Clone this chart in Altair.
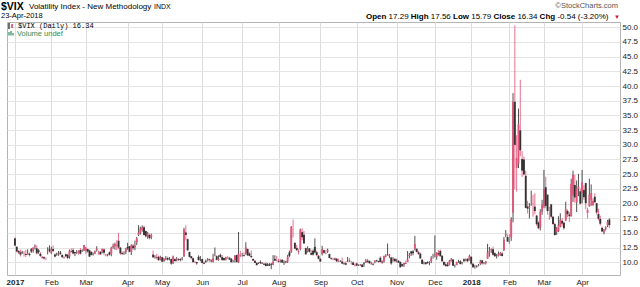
import altair as alt
import pandas as pd
import numpy as np

# ---------------- data (one inner list per month) ----------------
month_labels = ["2017", "Feb", "Mar", "Apr", "May", "Jun", "Jul", "Aug", "Sep", "Oct",
                "Nov", "Dec", "2018", "Feb", "Mar", "Apr"]
year_labels = ["2017", "2018"]

open_m = [
    [14.07,12.65,11.94,11.70,11.66,11.45,11.42,11.38,11.44,12.20,11.94,12.62,12.39,12.04,11.45,10.93,10.86,10.57,11.86,12.22],
    [11.63,12.26,11.33,11.46,11.32,11.64,11.27,10.92,11.37,11.28,11.00,11.87,12.11,11.75,11.64,11.80,12.10,12.03,12.02],
    [11.96,12.26,12.05,11.79,11.36,11.52,12.07,11.64,11.82,11.83,12.16,11.24,11.33,11.67,11.34,12.53,12.70,12.84,13.67,12.50,11.59,11.55,11.73],
    [12.62,12.76,11.75,12.84,12.52,13.40,14.66,15.01,15.54,15.98,15.32,14.39,14.65,14.27,11.31,11.01,10.86,10.95,10.47],
    [10.87,10.24,10.61,10.73,10.54,10.58,9.87,10.55,10.50,10.54,10.52,10.55,11.02,15.08,13.94,11.77,11.04,10.70,9.98,10.05,10.92,10.44],
    [10.57,9.92,10.18,10.27,10.52,10.33,10.05,11.43,11.04,10.41,11.24,10.89,10.72,10.46,10.73,10.78,10.62,10.16,10.38,11.26,10.01,11.22],
    [11.21,11.21,11.52,12.26,11.52,11.08,10.57,10.25,9.91,9.83,10.05,9.92,9.76,9.79,9.61,9.66,9.72,9.59,10.56,10.30],
    [10.22,10.21,10.44,10.05,10.16,10.14,11.68,11.79,15.52,13.31,12.45,11.82,12.26,15.14,14.70,12.40,11.89,12.38,11.61,11.94,12.63,11.73,11.11],
    [10.58,11.41,12.07,11.49,11.83,11.40,10.71,10.52,10.64,10.62,10.23,10.21,10.14,9.80,9.85,10.15,10.29,9.88,9.96,9.55],
    [9.81,9.54,9.49,9.61,9.79,9.92,10.28,10.24,9.83,9.74,10.08,10.39,10.23,10.78,10.12,10.14,11.06,11.26,11.07,10.81,10.40,10.59],
    [10.18,10.27,10.07,9.69,9.52,9.87,10.05,11.09,11.86,11.85,12.28,12.31,11.71,11.48,10.44,9.86,9.99,10.06,9.96,10.19,11.28],
    [11.33,10.95,11.55,11.93,11.13,10.07,9.67,9.55,9.55,10.19,10.46,9.56,9.55,10.07,10.19,9.95,10.50,10.32,10.61,10.37],
    [10.95,9.74,9.20,9.30,9.40,9.79,10.33,9.82,9.85,10.60,11.66,12.04,12.23,11.56,11.14,11.12,11.34,11.50,12.05,14.63,14.29],
    [13.52,14.24,18.44,37.32,26.07,26.80,32.46,27.58,27.50,24.71,19.50,19.31,20.61,19.95,19.48,17.95,16.79,15.92,18.61],
    [19.54,22.78,21.50,18.34,19.86,17.75,16.50,15.15,15.26,16.13,17.06,16.73,17.08,18.73,18.14,17.82,21.37,23.16,20.20,22.51,22.08],
    [21.72,22.29,23.49,18.40,19.55,20.63,19.72,21.17,20.06,18.22,17.39,15.87,15.03,15.73,16.25,17.29],
]
high_m = [
    [14.22,12.69,12.09,12.16,11.97,11.89,12.13,12.21,11.68,12.42,12.56,13.04,12.90,12.24,11.74,11.06,11.03,10.83,12.56,12.89],
    [12.64,12.85,11.51,11.64,11.92,11.93,11.30,11.03,11.45,11.44,12.18,12.36,12.45,11.78,12.08,12.08,12.45,12.22,12.96],
    [12.62,12.34,12.17,11.82,11.67,12.02,12.74,12.00,11.85,12.32,12.36,11.45,11.43,11.81,12.64,13.18,13.34,13.77,15.00,12.61,11.83,11.88,12.45],
    [13.32,12.78,13.07,13.10,13.68,14.32,16.32,16.06,16.28,16.22,15.40,15.18,14.89,14.87,12.00,11.20,11.44,11.14,11.12],
    [10.93,10.74,11.05,10.97,10.90,10.60,11.14,10.69,10.89,10.70,10.66,10.91,15.88,16.30,14.06,11.80,11.06,10.81,10.29,10.08,11.18,11.07],
    [10.60,10.09,10.48,10.72,10.63,10.53,11.44,12.52,11.19,11.21,11.46,11.21,10.76,10.96,11.05,10.94,10.71,10.42,11.24,11.30,15.16,11.97],
    [11.58,11.68,13.40,12.34,11.73,12.02,10.65,10.41,10.00,9.98,10.31,10.03,9.90,9.98,9.87,9.86,9.89,11.21,11.19,11.06],
    [10.60,10.49,10.50,10.34,10.25,11.26,12.00,16.15,17.28,13.40,12.95,12.29,15.73,15.81,15.33,12.52,12.71,12.43,12.12,12.18,14.07,11.97,11.25],
    [10.75,12.81,12.14,12.05,12.33,11.46,10.83,10.78,10.82,10.74,10.61,10.37,10.83,10.09,10.18,10.91,10.73,10.24,10.15,9.79],
    [9.95,9.65,9.71,9.70,10.05,10.54,10.59,10.31,10.09,9.91,10.32,10.41,10.25,11.02,10.37,11.12,11.40,13.20,11.41,10.94,10.88,10.70],
    [10.59,10.37,10.14,9.75,9.93,10.31,11.92,11.61,11.93,12.06,14.51,12.34,11.96,11.65,10.53,10.15,10.00,10.14,10.19,11.05,11.46],
    [14.58,11.72,12.08,12.17,11.15,10.17,9.99,10.00,10.40,10.73,10.49,9.60,10.10,10.42,10.39,10.03,10.65,10.63,10.69,11.30],
    [10.99,9.84,9.57,9.49,9.71,10.42,10.40,10.05,10.22,13.14,12.61,12.35,12.69,11.71,11.44,11.84,11.77,11.79,14.32,15.49,14.75],
    [14.78,17.67,38.80,50.30,31.64,36.17,41.06,28.93,28.00,25.60,20.47,20.08,22.19,21.50,21.76,18.05,16.97,19.03,20.64],
    [25.72,24.56,21.57,19.46,19.93,17.86,16.74,15.99,17.84,18.35,17.49,16.94,20.31,19.00,18.54,24.23,25.62,24.91,23.93,25.04,22.55],
    [25.72,23.09,23.53,19.29,24.25,23.26,20.91,21.76,20.12,19.13,17.93,16.08,15.65,16.14,17.23,17.56],
]
low_m = [
    [12.75,11.71,11.40,10.99,11.45,11.00,10.91,11.28,10.99,11.60,11.65,12.18,11.32,11.45,10.92,10.60,10.46,10.36,11.34,11.70],
    [11.40,11.76,10.85,11.11,11.10,11.29,10.70,10.61,10.87,10.50,10.62,11.67,11.37,11.05,11.40,11.29,11.32,11.76,11.89],
    [11.41,11.63,10.94,11.20,11.14,11.37,11.82,11.28,11.24,11.53,11.20,11.02,11.01,11.18,11.03,12.31,12.14,12.06,12.22,11.26,11.25,11.26,11.39],
    [12.13,11.72,11.23,12.12,12.06,12.92,14.48,14.74,15.21,14.58,14.23,14.00,13.90,13.93,10.76,10.62,10.50,10.25,10.32],
    [10.00,10.08,10.36,10.31,10.34,9.56,9.72,10.12,10.15,10.22,10.18,10.32,10.90,13.75,11.94,10.82,10.49,9.97,9.88,9.56,10.33,10.15],
    [9.84,9.68,9.90,10.16,10.09,9.97,9.98,11.03,10.31,10.26,10.81,10.29,10.33,10.31,10.55,10.37,9.93,9.98,9.97,9.97,9.92,10.87],
    [10.96,10.95,11.28,11.07,11.02,10.70,10.20,9.89,9.48,9.71,9.73,9.70,9.54,9.32,9.41,9.41,8.84,9.51,10.26,10.16],
    [9.95,9.96,9.94,9.56,9.79,9.88,10.87,11.59,14.22,12.28,11.99,11.34,12.05,13.75,13.19,11.35,11.68,11.67,11.21,11.17,11.54,11.04,10.53],
    [10.09,11.16,11.46,11.39,11.59,10.68,10.43,10.35,10.35,10.03,10.10,10.05,9.73,9.65,9.50,10.05,10.05,9.59,9.52,9.28],
    [9.33,9.40,9.40,9.17,9.21,9.88,9.85,9.73,9.61,9.45,9.82,10.08,9.91,9.96,9.71,9.94,10.83,11.14,10.71,9.55,10.10,10.08],
    [9.98,9.94,9.14,9.23,9.22,9.69,10.02,10.67,11.10,11.20,12.01,11.66,11.27,10.62,9.69,9.63,9.67,9.77,9.50,9.86,10.64],
    [10.84,10.44,11.10,10.99,10.14,9.40,9.31,9.32,9.48,10.12,9.38,9.13,9.50,9.93,9.60,9.63,10.03,10.18,10.04,10.30],
    [9.52,9.06,8.92,9.10,9.30,9.55,9.61,9.65,9.63,10.55,10.95,11.60,11.15,10.96,10.66,10.99,11.10,10.99,11.94,14.26,13.44],
    [13.12,13.65,16.80,22.42,22.02,26.03,28.04,24.52,24.78,19.20,18.32,17.47,19.61,17.76,18.16,16.21,15.63,15.42,18.07],
    [19.21,19.18,18.10,17.23,17.51,16.36,14.55,14.67,15.13,15.94,16.04,15.55,17.07,17.69,16.87,17.81,20.28,20.15,18.55,21.26,19.86],
    [20.04,20.64,19.03,17.48,19.46,19.63,19.58,20.05,18.16,17.12,16.25,15.14,14.78,15.41,16.01,15.79],
]
close_m = [
    [12.85,11.85,11.67,11.32,11.56,11.49,11.26,11.54,11.23,11.87,12.48,12.78,11.54,11.77,11.07,10.81,10.63,10.58,11.88,11.99],
    [12.14,11.93,10.97,11.37,11.45,11.45,10.88,10.85,11.07,10.74,11.97,11.76,11.49,11.57,11.74,11.71,11.47,12.09,12.92],
    [12.54,11.81,10.96,11.24,11.45,11.86,12.30,11.66,11.35,12.30,11.63,11.21,11.28,11.34,12.47,12.81,13.12,12.96,12.50,11.53,11.42,11.54,12.37],
    [12.38,11.79,12.89,12.39,12.87,14.05,15.07,15.77,15.96,14.66,14.42,14.93,14.15,14.63,10.84,11.10,10.76,10.36,10.82],
    [10.11,10.59,10.68,10.46,10.57,9.77,10.96,10.21,10.60,10.40,10.42,10.65,15.59,14.66,12.04,10.93,10.72,10.02,9.99,9.81,10.38,10.41],
    [9.89,9.75,10.07,10.45,10.39,10.16,10.70,11.46,10.42,10.64,10.90,10.38,10.37,10.86,10.75,10.48,10.02,10.15,11.06,10.03,11.44,11.18],
    [11.22,11.07,12.54,11.19,11.11,10.89,10.30,9.90,9.51,9.82,9.89,9.79,9.58,9.36,9.43,9.43,9.60,10.11,10.29,10.26],
    [10.09,10.28,9.95,10.03,10.00,10.96,11.11,16.04,15.51,12.33,12.04,11.74,15.55,14.26,13.19,11.35,12.25,11.78,11.28,11.32,11.70,11.22,10.59],
    [10.13,12.23,11.63,11.55,12.12,10.73,10.58,10.50,10.44,10.17,10.15,10.18,9.78,9.67,9.59,10.21,10.17,9.87,9.55,9.51],
    [9.45,9.51,9.63,9.19,9.65,10.33,10.08,9.85,9.91,9.61,10.31,10.31,10.07,10.05,9.97,11.07,11.16,11.23,11.30,9.80,10.50,10.18],
    [10.20,9.93,9.14,9.40,9.89,9.78,10.50,11.29,11.50,11.59,13.13,11.76,11.43,10.65,9.73,9.88,9.67,9.87,10.03,10.70,11.28],
    [11.43,11.68,11.33,11.02,10.16,9.58,9.34,9.34,10.18,10.49,9.42,9.53,10.03,10.03,9.72,9.90,10.25,10.47,10.18,11.04],
    [9.77,9.15,9.22,9.22,9.52,10.08,9.82,9.88,10.16,11.66,11.91,12.22,11.27,11.03,11.10,11.47,11.58,11.08,13.84,14.79,13.54],
    [13.47,17.31,37.32,29.98,27.73,33.46,29.06,25.61,24.97,19.26,19.13,19.46,20.60,20.02,18.72,16.49,15.80,18.59,19.85],
    [22.47,19.59,18.73,18.36,17.76,16.54,14.64,15.78,16.35,17.23,16.59,15.80,19.02,18.20,17.86,23.34,24.87,21.03,22.50,22.87,19.97],
    [23.62,21.10,20.06,18.94,21.49,21.77,20.47,20.24,18.49,17.41,16.56,15.25,15.60,15.96,16.88,16.34],
]
prev_close_before_start = 14.04
y_ticks = [10.0, 12.5, 15.0, 17.5, 20.0, 22.5, 25.0, 27.5, 30.0, 32.5, 35.0, 37.5, 40.0, 42.5, 45.0, 47.5, 50.0]

header_symbol = "$VIX"
header_name = "Volatility Index - New Methodology"
header_exch = "INDX"
header_date = "23-Apr-2018"
header_copyright = "\u00a9StockCharts.com"
quote_parts = ["Open", "17.29", "High", "17.56", "Low", "15.79", "Close", "16.34", "Chg", "-0.54 (-3.20%)"]
legend_main = "$VIX (Daily) 16.34"
legend_vol = "Volume undef"

# ---------------- build table ----------------
rows = []
month_start = []
i = 0
for m in range(len(close_m)):
    n = min(len(open_m[m]), len(high_m[m]), len(low_m[m]), len(close_m[m]))
    month_start.append(i)
    for d in range(n):
        rows.append({"i": i, "o": open_m[m][d], "h": high_m[m][d], "l": low_m[m][d], "c": close_m[m][d]})
        i += 1
df = pd.DataFrame(rows)
df["h"] = df[["h", "o", "c"]].max(axis=1)
df["l"] = df[["l", "o", "c"]].min(axis=1)
df["prev"] = df["c"].shift(1).fillna(prev_close_before_start)
df["dir"] = np.where(df["c"] >= df["prev"], "up", "down")
df["kind"] = df["dir"] + np.where(df["c"] > df["o"], "_h", "_f")

PW, PH = 613, 253
OX, OY = 7, 22  # plot origin inside the page

x_vals = month_start
lbl_expr = "[" + ",".join("'%s'" % s for s in month_labels) + "][indexof([" + ",".join(str(v) for v in x_vals) + "], datum.value)]"
year_test = " || ".join("datum.value == %d" % month_start[month_labels.index(y)] for y in year_labels)

x_enc = alt.X("i:Q",
              scale=alt.Scale(domain=[-1.62, 330.1], nice=False, zero=False),
              axis=alt.Axis(values=x_vals, labelExpr=lbl_expr, grid=True, gridColor="#dcdcdc",
                            gridWidth=1, ticks=False, domain=False, labelFontSize=8,
                            labelFont="Liberation Sans", labelColor="#222", labelPadding=3,
                            labelFlush=False, labelOverlap=False, title=None,
                            labelFontWeight={"condition": {"test": year_test, "value": "bold"}, "value": "normal"}))
y_scale = alt.Scale(domain=[7.84, 50.9], nice=False, zero=False)
y_axis = alt.Axis(orient="right", values=y_ticks, format=".1f", grid=True, gridColor="#e4e4e4",
                  ticks=False, domain=False, labelFontSize=8, labelFont="Liberation Sans",
                  labelColor="#222", labelPadding=2, title=None)

base = alt.Chart(df)

wicks = base.mark_rule(strokeWidth=1, opacity=0.85).encode(
    x=x_enc,
    y=alt.Y("l:Q", scale=y_scale, axis=y_axis),
    y2="h:Q",
    color=alt.Color("dir:N", scale=alt.Scale(domain=["up", "down"], range=["#333333", "#e0577a"]), legend=None),
)
bodies = base.mark_bar(size=1.9).encode(
    x=x_enc,
    y=alt.Y("o:Q", scale=y_scale, axis=y_axis),
    y2="c:Q",
    color=alt.Color("kind:N",
                    scale=alt.Scale(domain=["up_f", "up_h", "down_f", "down_h"],
                                    range=["#000000", "#5e5e5e", "#d10a3c", "#e0607f"]),
                    legend=None),
)

one = pd.DataFrame({"k": [0]})


def txt(s, ax, ay, size=8, weight="normal", color="#000000", font="Liberation Sans", align="left"):
    return alt.Chart(one).mark_text(align=align, baseline="middle", fontSize=size, fontWeight=weight,
                                    color=color, font=font).encode(
        x=alt.value(ax - OX), y=alt.value(ay - OY), text=alt.value(s))


def rule(ax, ay1, ay2, color, w):
    return alt.Chart(one).mark_rule(color=color, strokeWidth=w).encode(
        x=alt.value(ax - OX), y=alt.value(ay1 - OY), y2=alt.value(ay2 - OY))


texts = [
    txt(header_symbol, 1, 6.5, size=10.5, weight="bold"),
    txt(header_name, 29, 6.5, size=8),
    txt(header_exch, 154, 6.5, size=7),
    txt(header_date, 1, 16, size=7.5),
    txt(header_copyright, 618, 5.5, size=7.5, color="#555555", align="right"),
    txt(legend_main, 18, 26, size=7, font="Liberation Mono"),
    txt(legend_vol, 17, 33.5, size=7.5, color="#2e8b57"),
]
# quote line, alternating bold label / value
qx = [366, 388.6, 410.8, 430.8, 453, 471.2, 493.4, 517.4, 539.6, 557.4]
for k, s in enumerate(quote_parts):
    texts.append(txt(s, qx[k], 16.5, size=8, weight="bold" if k % 2 == 0 else "normal"))
texts.append(txt("\u25bc", 614, 16.5, size=6, color="#cc1133"))

icons = [
    rule(9, 23, 29, "#111111", 1.2), rule(12, 24, 28, "#d10a3c", 1.2),
    rule(9, 32, 35.5, "#2e8b57", 1.2), rule(11, 31, 35.5, "#2e8b57", 1.2), rule(13, 33, 35.5, "#2e8b57", 1.2),
]

chart = alt.layer(wicks, bodies, *icons, *texts).properties(
    width=PW, height=PH,
    autosize=alt.AutoSizeParams(type="none"),
    padding={"left": OX, "top": OY, "right": 640 - OX - PW, "bottom": 287 - OY - PH},
    background="#ffffff",
).configure_view(stroke="#b4b4b4", strokeWidth=1)

chart.save("out.html", embed_options={"renderer": "svg", "actions": False})
